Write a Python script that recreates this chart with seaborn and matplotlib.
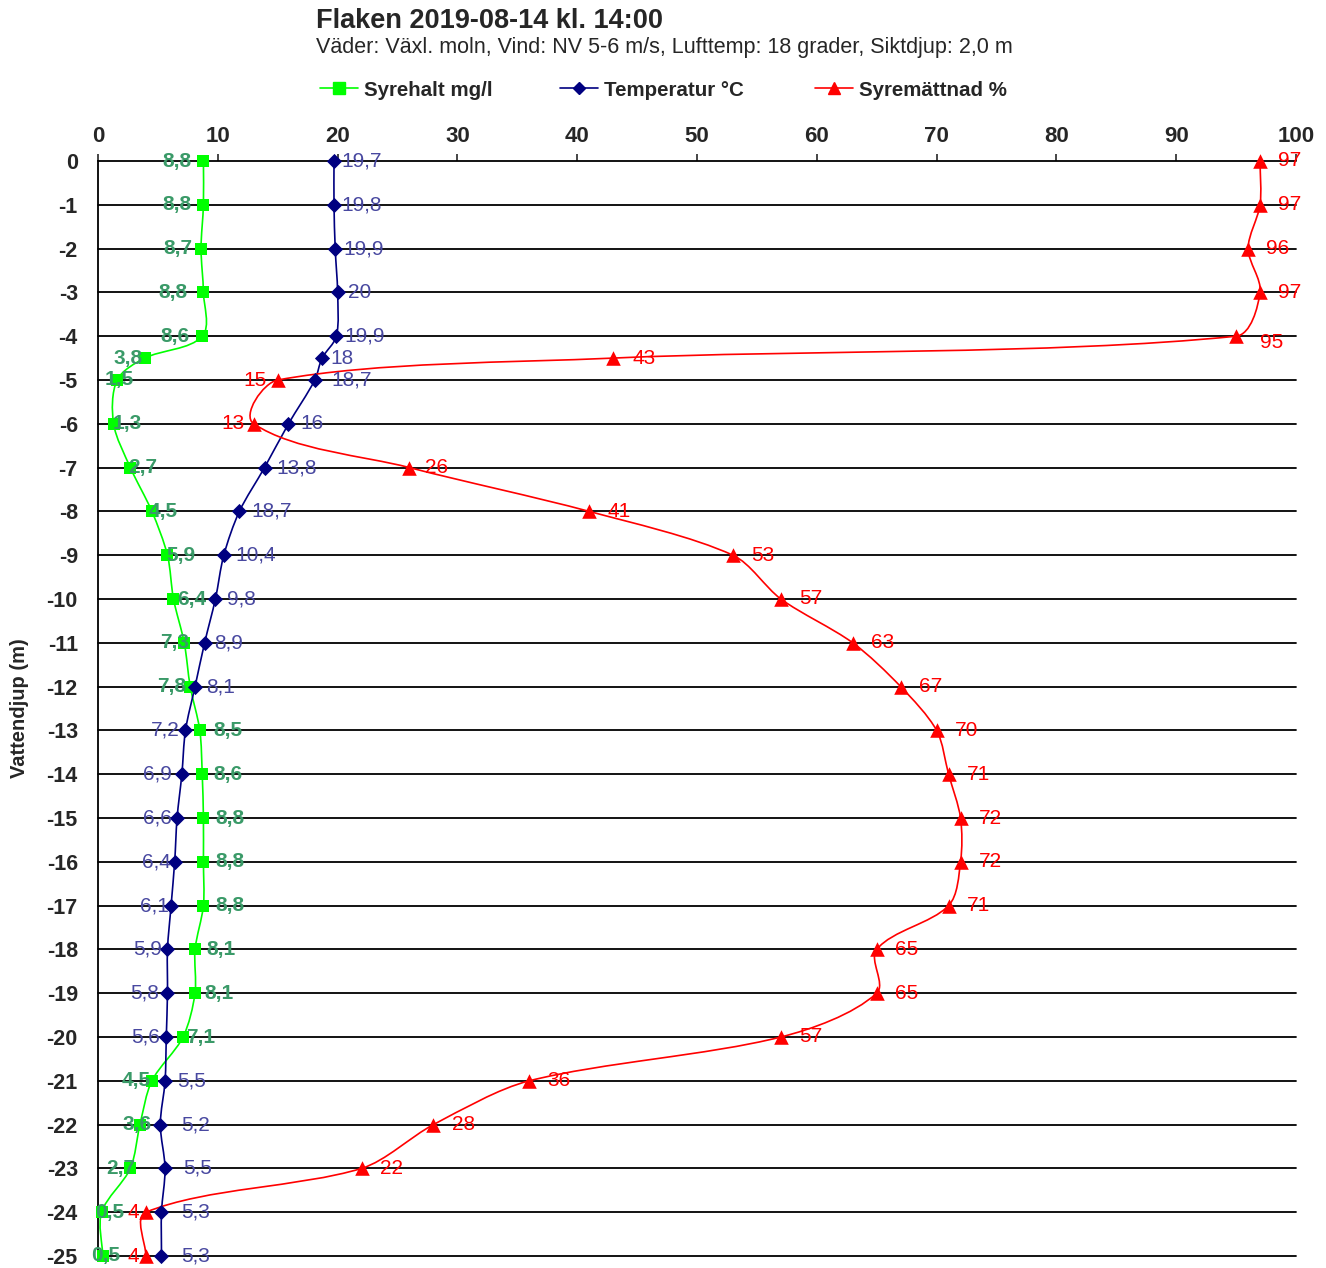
import numpy as np
import pandas as pd
import matplotlib
matplotlib.use("Agg")
import matplotlib.pyplot as plt
from matplotlib.path import Path
from matplotlib.patches import PathPatch
from matplotlib.lines import Line2D
import seaborn as sns

# depth (m) and the three profiles
depth = [0, -1, -2, -3, -4, -4.5, -5, -6, -7, -8, -9, -10, -11, -12, -13, -14,
         -15, -16, -17, -18, -19, -20, -21, -22, -23, -24, -25]
syrehalt = [8.8, 8.8, 8.6, 8.8, 8.7, 3.9, 1.6, 1.3, 2.7, 4.5, 5.8, 6.3, 7.2, 7.7,
            8.5, 8.7, 8.8, 8.8, 8.8, 8.1, 8.1, 7.1, 4.5, 3.5, 2.7, 0.3, 0.4]
temperatur = [19.7, 19.7, 19.8, 20.0, 19.9, 18.7, 18.1, 15.9, 13.9, 11.8, 10.5, 9.8,
              8.9, 8.1, 7.3, 7.0, 6.6, 6.4, 6.1, 5.8, 5.8, 5.7, 5.6, 5.2, 5.6, 5.3, 5.3]
syremattnad = [97, 97, 96, 97, 95, 43, 15, 13, 26, 41, 53, 57, 63, 67, 70, 71,
               72, 72, 71, 65, 65, 57, 36, 28, 22, 4, 4]

# data label texts as printed in the chart
syrehalt_lbl = ["8,8", "8,8", "8,7", "8,8", "8,6", "3,8", "1,5", "1,3", "2,7", "4,5",
                "5,9", "6,4", "7,3", "7,8", "8,5", "8,6", "8,8", "8,8", "8,8", "8,1",
                "8,1", "7,1", "4,5", "3,6", "2,7", "0,5", "0,5"]
temperatur_lbl = ["19,7", "19,8", "19,9", "20", "19,9", "18", "18,7", "16", "13,8",
                  "18,7", "10,4", "9,8", "8,9", "8,1", "7,2", "6,9", "6,6", "6,4",
                  "6,1", "5,9", "5,8", "5,6", "5,5", "5,2", "5,5", "5,3", "5,3"]
syremattnad_lbl = [str(v) for v in syremattnad]

# label placement (pixel offset of label centre from marker)
syrehalt_dx = [-26, -26, -23, -30, -27, -17, 2, 14, 12, 11, 13, 18, -10, -19, 28, 26,
               27, 27, 27, 26, 24, 18, -16, -3, -10, 8, 3]
temperatur_dx = [28, 28, 28, 22, 28, 20, 37, 24, 32, 32, 32, 26, 24, 26, -20, -24,
                 -20, -18, -17, -20, -23, -21, 27, 35, 33, 34, 34]
syremattnad_dx = [30, 30, 30, 30, 36, 31, -23, -21, 27, 30, 30, 30, 30, 30, 30, 30,
                  30, 30, 30, 30, 30, 30, 30, 30, 30, -13, -13]

sns.set_style("white")
plt.rcParams["font.family"] = ["Liberation Sans", "DejaVu Sans"]
plt.rcParams["axes.unicode_minus"] = False

W, H = 1326, 1268
fig = plt.figure(figsize=(W / 100, H / 100), dpi=100)
ax = fig.add_axes([98 / W, 12 / H, 1198 / W, 1095 / H])
ax.set_xlim(0, 100)
ax.set_ylim(-25, 0)

sx, sy = 1198 / 100, 1095 / 25


def smooth_path(xs, ys, k=0.3):
    # bezier smoothing in screen space, tangent handles scaled by segment length
    pts = np.column_stack([np.asarray(xs, float) * sx, np.asarray(ys, float) * sy])
    n = len(pts)
    tang = []
    for i in range(n):
        d = pts[min(i + 1, n - 1)] - pts[max(i - 1, 0)]
        tang.append(d / (np.hypot(*d) or 1))
    verts = [pts[0]]
    codes = [Path.MOVETO]
    for i in range(n - 1):
        L = np.hypot(*(pts[i + 1] - pts[i]))
        verts += [pts[i] + tang[i] * L * k, pts[i + 1] - tang[i + 1] * L * k, pts[i + 1]]
        codes += [Path.CURVE4] * 3
    verts = np.array(verts) / [sx, sy]
    return Path(verts, codes)


series = [
    ("Syrehalt mg/l", syrehalt, syrehalt_lbl, syrehalt_dx, "#00ff00", "s", 80, "#3a9a68", "bold"),
    ("Temperatur °C", temperatur, temperatur_lbl, temperatur_dx, "#000080", "D", 60, "#4848a0", "normal"),
    ("Syremättnad %", syremattnad, syremattnad_lbl, syremattnad_dx, "#ff0000", "^", 110, "#ff0000", "normal"),
]

handles = []
for name, vals, lbls, dxs, col, mk, size, lcol, lw in series:
    df = pd.DataFrame({"x": vals, "depth": depth})
    ax.add_patch(PathPatch(smooth_path(df["x"], df["depth"]), fill=False,
                           edgecolor=col, lw=1.2, clip_on=False, zorder=3))
    sns.scatterplot(data=df, x="x", y="depth", marker=mk, s=size, color=col,
                    edgecolor=col, linewidth=0, ax=ax, zorder=4, clip_on=False)
    for i, (xv, yv) in enumerate(zip(vals, depth)):
        dy = -6 if (name.startswith("Syrem") and yv == -4) else 0
        ax.annotate(lbls[i], (xv, yv), xytext=(dxs[i], dy), textcoords="offset pixels",
                    ha="center", va="center", fontsize=15, color=lcol, fontweight=lw,
                    annotation_clip=False, zorder=5)
    handles.append(Line2D([], [], color=col, lw=1.2, marker=mk,
                          markersize=8 if mk != "D" else 6.5, label=name))

for c in ax.collections:
    c.set_clip_on(False)

ax.set_xlabel("")
ax.set_ylabel("Vattendjup (m)", fontsize=14.5, fontweight="bold")
ax.yaxis.label.set_va("center")
ax.yaxis.set_label_coords((20 - 98) / 1198, 0.5)
ax.xaxis.tick_top()
ax.set_xticks(range(0, 101, 10))
ax.set_yticks(range(-25, 1))
ax.set_yticks(np.arange(-24.5, 0, 1), minor=True)
ax.tick_params(axis="x", direction="out", length=5, width=1.2, pad=5, labelsize=16)
ax.tick_params(axis="y", which="major", direction="out", length=6, width=1.2, pad=8.5, labelsize=15.5)
ax.tick_params(axis="y", which="minor", direction="in", length=5, width=1.2)
for t in ax.get_xticklabels() + ax.get_yticklabels():
    t.set_fontweight("bold")

ax.yaxis.grid(True, color="black", lw=1.3)
for gl in ax.get_ygridlines():
    gl.set_clip_on(False)
ax.set_axisbelow(True)
sns.despine(ax=ax, top=True, right=True, bottom=True, left=False)
ax.spines["left"].set_linewidth(1.3)
ax.spines["left"].set_color("black")

fig.text(316 / W, 1 - 21 / H, "Flaken 2019-08-14 kl. 14:00", fontsize=19.5,
         fontweight="bold", va="center", ha="left")
fig.text(316 / W, 1 - 47 / H,
         "Väder: Växl. moln, Vind: NV 5-6 m/s, Lufttemp: 18 grader, Siktdjup: 2,0 m",
         fontsize=15.5, va="center", ha="left")

# one legend per entry so each sits where the original puts it
for h, x0 in zip(handles, [320, 560, 815]):
    leg = fig.legend(handles=[h], loc="center left", bbox_to_anchor=(x0 / W, 1 - 90 / H),
                     frameon=False, prop={"weight": "bold", "size": 14.8},
                     handlelength=1.85, handletextpad=0.3, borderpad=0, borderaxespad=0)

fig.savefig("out.png", dpi=100)
